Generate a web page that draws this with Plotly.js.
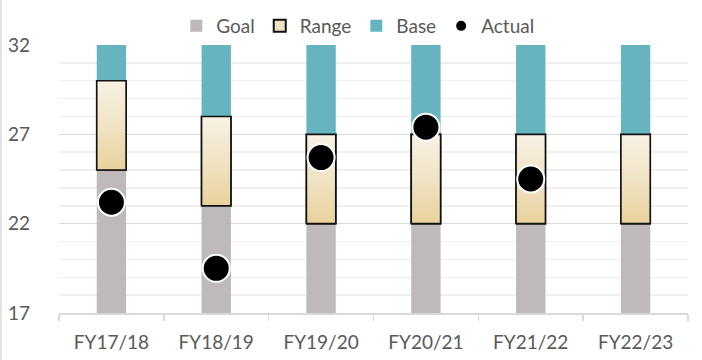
<!DOCTYPE html>
<html>
<head>
<meta charset="utf-8">
<script src="https://cdn.plot.ly/plotly-3.0.1.min.js"></script>
<style>
  html, body { margin: 0; padding: 0; background: #fff; }
  #chart { width: 702px; height: 360px; }
</style>
</head>
<body>
<div id="chart"></div>
<script>
// Fiscal years on the x axis
const years = ["FY17/18", "FY18/19", "FY19/20", "FY20/21", "FY21/22", "FY22/23"];
// Lower edge of the target range (goal) and upper edge of the range
const goal = [25, 23, 22, 22, 22, 22];
const rangeTop = [30, 28, 27, 27, 27, 27];
// Axis floor and ceiling
const axisMin = 17;
const axisMax = 32;
// Actual results (none yet for the last year)
const actual = [23.2, 19.5, 25.7, 27.4, 24.5, null];
// Y tick values
const yTicks = [17, 22, 27, 32];

const idx = years.map((_, i) => i);
const barWidth = 0.28;
const font = "Lato, 'Open Sans', sans-serif";

// Grey goal column from the axis floor up to the goal
const goalTrace = {
  type: "bar", name: "Goal", legendrank: 1,
  x: idx, base: idx.map(() => axisMin), y: goal.map(g => g - axisMin),
  width: barWidth, marker: { color: "#bfb9b9", line: { width: 0 } },
  hoverinfo: "skip"
};

// Range column (outlined); its gradient fill is layered on top below
const rangeBar = {
  type: "bar", name: "Range", legendrank: 2,
  x: idx, base: goal, y: rangeTop.map((t, i) => t - goal[i]),
  width: barWidth, marker: { color: "#f0e3c3", line: { color: "#111", width: 1.6 } },
  hoverinfo: "skip"
};

// Teal column from the top of the range up to the ceiling
const baseTrace = {
  type: "bar", name: "Base", legendrank: 3,
  x: idx, base: rangeTop, y: rangeTop.map(t => axisMax - t),
  width: barWidth, marker: { color: "#66b4c0", line: { width: 0 } },
  hoverinfo: "skip"
};

// Range boxes: outlined rectangles with a vertical beige gradient
const rangeFills = idx.map(i => {
  const x0 = i - barWidth / 2, x1 = i + barWidth / 2;
  return {
    type: "scatter", mode: "lines", name: "Range", showlegend: false,
    x: [x0, x1, x1, x0, x0],
    y: [goal[i], goal[i], rangeTop[i], rangeTop[i], goal[i]],
    fill: "toself",
    fillgradient: {
      type: "vertical",
      colorscale: [[0, "#e8d19c"], [0.55, "#f1e5c8"], [1, "#f8f2e4"]],
      start: goal[i], stop: rangeTop[i]
    },
    line: { color: "#111", width: 1.6 },
    hoverinfo: "skip"
  };
});

// Actual result markers
const actualTrace = {
  type: "scatter", mode: "markers", name: "Actual", legendrank: 4,
  x: idx, y: actual,
  marker: { color: "#000", size: 27, line: { color: "#fff", width: 2 } },
  hoverinfo: "skip"
};

const layout = {
  width: 702, height: 360,
  margin: { l: 59, r: 14, t: 45, b: 47, autoexpand: false },
  paper_bgcolor: "#fff", plot_bgcolor: "#fff",
  barmode: "overlay",
  showlegend: true,
  legend: {
    orientation: "h", x: 0.475, xanchor: "center", y: 1 + 38 / 268, yanchor: "top",
    font: { family: font, size: 19, color: "#595959" },
    itemwidth: 30, tracegroupgap: 0, itemsizing: "constant",
    bgcolor: "rgba(0,0,0,0)"
  },
  xaxis: {
    range: [-0.5, 5.5], tickmode: "array", tickvals: idx, ticktext: years,
    ticks: "", showgrid: false, zeroline: false,
    showline: true, linecolor: "#d9d9d9", linewidth: 1.5,
    ticklabelstandoff: 12,
    minor: { tick0: -0.5, dtick: 1, ticks: "outside", ticklen: 6, tickcolor: "#d9d9d9", tickwidth: 1.5, showgrid: false },
    tickfont: { family: font, size: 19, color: "#595959" },
    fixedrange: true
  },
  yaxis: {
    range: [axisMin, axisMax], tickmode: "array", tickvals: yTicks,
    showgrid: true, gridcolor: "#d9d9d9", gridwidth: 1.5,
    zeroline: false, showline: false, ticks: "",
    ticklabelstandoff: 28,
    minor: { dtick: 1, tick0: axisMin, showgrid: true, gridcolor: "#efefef", gridwidth: 1.5, ticks: "" },
    tickfont: { family: font, size: 19, color: "#595959" },
    fixedrange: true
  },
  shapes: [{
    type: "line", xref: "paper", yref: "paper",
    x0: -58 / 629, x1: -58 / 629, y0: -47 / 268, y1: 1 + 45 / 268,
    line: { color: "#d9d9d9", width: 1.5 }, layer: "below"
  }]
};

Plotly.newPlot("chart", [goalTrace, rangeBar, baseTrace, ...rangeFills, actualTrace], layout,
  { displayModeBar: false, staticPlot: true });
</script>
</body>
</html>
